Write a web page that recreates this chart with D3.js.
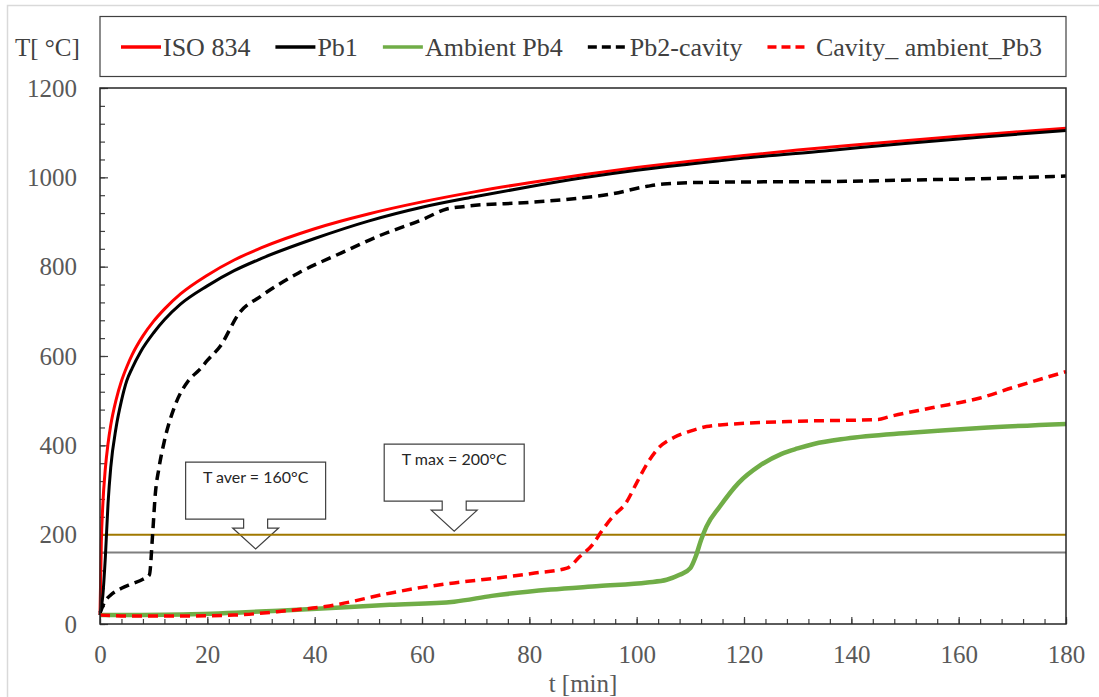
<!DOCTYPE html>
<html>
<head>
<meta charset="utf-8">
<title>Temperature curves</title>
<script src="https://cdnjs.cloudflare.com/ajax/libs/d3/7.8.5/d3.min.js"></script>
<style>
body { margin: 0; background: #fff; }
.axis path { display: none; }
.axis line { stroke: #404040; stroke-width: 1.2; }
.axis text { font-family: 'Liberation Serif', 'Times New Roman', serif; font-size: 25px; fill: #595959; }
.legend text { font-family: 'Liberation Serif', 'Times New Roman', serif; font-size: 26px; fill: #404040; white-space: pre; }
.callout path { fill: #fff; stroke: #404040; stroke-width: 1.2; }
.callout text { font-family: Lato, 'Liberation Sans', sans-serif; font-size: 16px; fill: #262626; text-anchor: middle; }
.title { font-family: 'Liberation Serif', 'Times New Roman', serif; font-size: 25px; fill: #404040; }
</style>
</head>
<body>
<svg id="chart" width="1099" height="697"></svg>
<script>
// values: time [min] and temperature [°C]
var isoT = [0, 0.25, 0.5, 1, 1.5, 2, 3, 4, 5, 6, 8, 10, 12, 15, 20, 25, 30, 40, 50, 60, 70, 80, 90, 100, 110, 120, 130, 140, 150, 160, 170, 180];
var isoV = [20, 185, 261, 349, 404, 445, 502, 544, 576, 603, 645, 678, 705, 739, 781, 815, 842, 885, 918, 945, 968, 988, 1006, 1022, 1036, 1049, 1061, 1072, 1082, 1092, 1101, 1110];

var pb1T = [0, 0.5, 1, 1.5, 2, 3, 4, 5, 6, 7.5, 10, 12, 15, 20, 25, 30, 40, 50, 60, 70, 80, 90, 100, 110, 120, 135, 150, 165, 180];
var pb1V = [20, 60, 150, 270, 350, 440, 500, 545, 573, 608, 652, 681, 716, 757, 791, 818, 863, 902, 933, 957, 979, 999, 1016, 1030, 1043, 1059, 1076, 1091, 1105];

var pb4T = [0, 17, 35, 54, 66, 73, 84, 93, 102, 105.6, 108, 110, 111, 112, 113, 115.5, 119, 123, 127, 130, 133, 139, 151, 164, 180];
var pb4V = [20, 22, 31, 43, 50, 63, 77, 85, 93, 99, 110, 125, 151, 188, 218, 263, 316, 355, 381, 393, 403, 415, 428, 439, 448];

var pb2T = [0, 1, 2, 4, 6, 8, 9.2, 9.8, 10.3, 11, 12, 14, 16.5, 18.6, 20, 22.4, 26, 30, 37, 45, 52, 60, 64.6, 68, 80, 89, 95, 102, 105, 114, 139, 151, 164, 180];
var pb2V = [25, 52, 65, 80, 90, 100, 110, 200, 290, 350, 410, 490, 545, 570, 590, 622, 697, 734, 786, 831, 869, 905, 929, 935, 944, 953, 962, 980, 985, 989, 991, 994, 997, 1003];

var pb3T = [0, 5, 15, 25, 35, 42, 54, 60, 66, 74, 81, 87, 89.4, 92, 93.2, 95.6, 98, 100, 102, 104, 107, 110, 113, 117, 121, 130, 145, 147, 155, 164, 170, 180];
var pb3V = [20, 18, 18, 20, 30, 39, 69, 82, 92, 103, 114, 125, 151, 181, 203, 241, 271, 316, 360, 393, 418, 432, 442, 447, 450, 454, 458, 464, 484, 506, 529, 565];

var seriesNames = ['ISO 834', 'Pb1', 'Ambient Pb4', 'Pb2-cavity', ' Cavity_ ambient_Pb3'];
var limitValues = [200, 160];
var calloutLabels = ['T aver = 160°C', 'T max = 200°C'];
var calloutAt = [[29, 160], [66, 200]];

var xTicks = d3.range(0, 181, 20);
var yTicks = d3.range(0, 1201, 200);

var series = [
  { name: seriesNames[0], t: isoT, v: isoV, color: '#ff0000', width: 3, dash: null },
  { name: seriesNames[1], t: pb1T, v: pb1V, color: '#000000', width: 3, dash: null },
  { name: seriesNames[2], t: pb4T, v: pb4V, color: '#70ad47', width: 4.5, dash: null },
  { name: seriesNames[3], t: pb2T, v: pb2V, color: '#000000', width: 3.5, dash: '10,6' },
  { name: seriesNames[4], t: pb3T, v: pb3V, color: '#ff0000', width: 3.5, dash: '10,6' }
];

var svg = d3.select('#chart');
var plot = { left: 100, right: 1066, top: 88, bottom: 624 };

var x = d3.scaleLinear().domain([0, 180]).range([plot.left, plot.right]);
var y = d3.scaleLinear().domain([0, 1200]).range([plot.bottom, plot.top]);

// outer chart area border
svg.append('rect')
  .attr('x', 7.5).attr('y', 5.5).attr('width', 1100).attr('height', 700)
  .attr('fill', 'none').attr('stroke', '#d9d9d9').attr('stroke-width', 1.5);

// y title
svg.append('text').attr('class', 'title').attr('x', 15).attr('y', 56).text('T[ °C]');

// legend
var legend = svg.append('g').attr('class', 'legend');
legend.append('rect')
  .attr('x', plot.left).attr('y', 16.5).attr('width', plot.right - plot.left).attr('height', 60)
  .attr('fill', '#fff').attr('stroke', '#404040').attr('stroke-width', 1.2);

var lx = 121;
series.forEach(function (s) {
  legend.append('line')
    .attr('x1', lx).attr('x2', lx + 40).attr('y1', 47).attr('y2', 47)
    .attr('stroke', s.color).attr('stroke-width', 3.5)
    .attr('stroke-dasharray', s.dash ? '9,5' : null);
  var txt = legend.append('text').attr('x', lx + 42).attr('y', 56).text(s.name);
  lx += 42 + txt.node().getComputedTextLength() + 25;
});

// axes (ticks point inward)
svg.append('g').attr('class', 'axis')
  .attr('transform', `translate(${plot.left},0)`)
  .call(d3.axisLeft(y).tickValues(d3.range(0, 1201, 40)).tickSize(-5).tickSizeOuter(0).tickFormat(''));
svg.append('g').attr('class', 'axis')
  .attr('transform', `translate(${plot.left},0)`)
  .call(d3.axisLeft(y).tickValues(yTicks).tickSize(-8).tickSizeOuter(0).tickPadding(23).tickFormat(d3.format('d')));

svg.append('g').attr('class', 'axis')
  .attr('transform', `translate(0,${plot.bottom})`)
  .call(d3.axisBottom(x).tickValues(d3.range(0, 181, 4)).tickSize(-5).tickSizeOuter(0).tickFormat(''));
svg.append('g').attr('class', 'axis')
  .attr('transform', `translate(0,${plot.bottom})`)
  .call(d3.axisBottom(x).tickValues(xTicks).tickSize(-7).tickSizeOuter(0).tickPadding(21).tickFormat(d3.format('d')));

svg.append('text').attr('class', 'title')
  .attr('x', (plot.left + plot.right) / 2).attr('y', 692)
  .attr('text-anchor', 'middle').style('fill', '#595959')
  .text('t [min]');

// callouts
function calloutPath(tx, ty) {
  var pts = [[-70, -87], [70, -87], [70, -30], [12, -30], [12, -21], [23, -21], [0, 0],
             [-23, -21], [-12, -21], [-12, -30], [-70, -30]];
  return 'M' + pts.map(p => (tx + p[0]) + ',' + (ty + p[1])).join('L') + 'Z';
}
calloutAt.forEach(function (c, i) {
  var tx = x(c[0]), ty = y(c[1]) - 3.5;
  var g = svg.append('g').attr('class', 'callout');
  g.append('path').attr('d', calloutPath(tx, ty));
  g.append('text').attr('x', tx).attr('y', ty - 66).text(calloutLabels[i]);
});

// limit lines
var limitColors = ['#a07800', '#7f7f7f'];
limitValues.forEach(function (v, i) {
  svg.append('line')
    .attr('x1', x(0)).attr('x2', x(180)).attr('y1', y(v)).attr('y2', y(v))
    .attr('stroke', limitColors[i]).attr('stroke-width', 2);
});

// curves
var line = d3.line()
  .x(d => x(d[0]))
  .y(d => y(d[1]))
  .curve(d3.curveMonotoneX);

series.forEach(function (s) {
  svg.append('path')
    .datum(s.t.map((t, i) => [t, s.v[i]]))
    .attr('d', line)
    .attr('fill', 'none')
    .attr('stroke', s.color)
    .attr('stroke-width', s.width)
    .attr('stroke-dasharray', s.dash)
    .attr('stroke-linejoin', 'round');
});

// plot frame
svg.append('rect')
  .attr('x', plot.left).attr('y', plot.top)
  .attr('width', plot.right - plot.left).attr('height', plot.bottom - plot.top)
  .attr('fill', 'none').attr('stroke', '#262626').attr('stroke-width', 1.5);
</script>
</body>
</html>
